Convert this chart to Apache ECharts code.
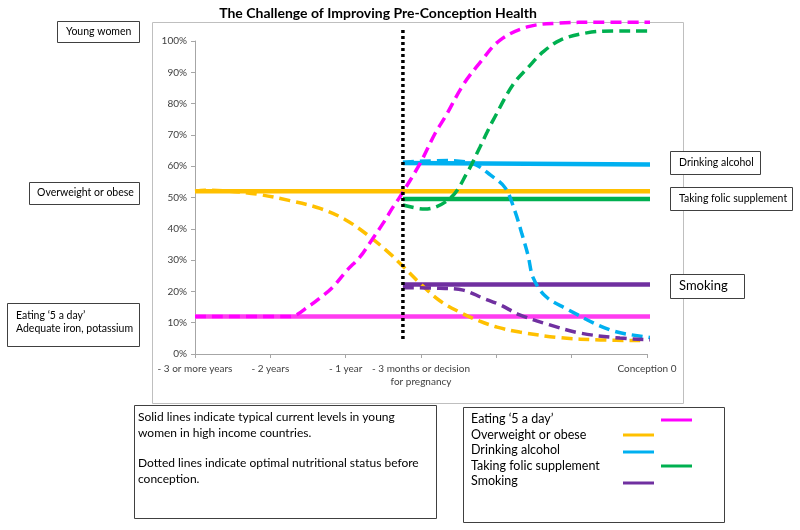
<!DOCTYPE html>
<html><head><meta charset="utf-8">
<script src="https://cdn.jsdelivr.net/npm/echarts@6/dist/echarts.min.js"></script>
<style>html,body{margin:0;padding:0;background:#fff}#c{width:800px;height:530px}</style>
</head><body><div id="c"></div>
<script>
// Category tick labels (x positions 0..6)
const xTickLabels = ['- 3 or more years', '- 2 years', '- 1 year', '- 3 months or decision\nfor pregnancy', '', '', 'Conception 0'];
const decisionX = 2.76;

// Solid lines: typical current levels
const eatingCurrent = [[0, 12], [6.31, 12]];
const overweightCurrent = [[0, 52], [6.31, 52]];
const alcoholCurrent = [[2.76, 61], [6.31, 60.5]];
const folicCurrent = [[2.76, 49.5], [6.31, 49.5]];
const smokingCurrent = [[2.76, 22.2], [6.31, 22.2]];

// Dashed lines: optimal status before conception
const eatingOptimal = [[0, 12], [1.26, 12], [1.53, 15.6], [1.66, 17.9], [1.83, 21.4], [2.02, 26.8], [2.19, 31], [2.32, 35.5], [2.5, 41.9], [2.63, 47], [2.72, 50.2], [2.99, 61], [3.19, 70.6], [3.32, 75.7], [3.56, 86], [3.78, 93], [4.05, 100.3], [4.41, 104.5], [4.81, 105.7], [5.38, 106], [6.31, 106]];
const overweightOptimal = [[0, 52], [0.13, 52.3], [0.46, 52], [0.84, 51], [1.26, 49], [1.66, 46.5], [1.99, 43], [2.32, 37.5], [2.59, 32], [2.76, 28], [2.99, 22.5], [3.25, 17], [3.52, 13.3], [3.78, 10.5], [4.01, 8.6], [4.31, 7], [4.85, 5.2], [5.38, 4.5], [5.91, 4.3]];
const alcoholOptimal = [[2.76, 61.3], [3.39, 61.8], [3.72, 60.5], [3.92, 57.2], [4.12, 53], [4.25, 45.4], [4.34, 38.3], [4.42, 31.6], [4.49, 24.3], [4.65, 18.5], [4.91, 14.7], [5.51, 7.7], [6.0, 5.4], [6.31, 4.6]];
const folicOptimal = [[2.76, 47.6], [3.05, 46.3], [3.39, 49.8], [3.61, 57.8], [3.78, 66], [3.88, 71], [3.96, 74.8], [4.22, 86], [4.45, 92.3], [4.62, 96.5], [4.85, 100.3], [5.2, 102.6], [5.55, 103.2], [6.0, 103.2], [6.31, 102.6]];
const smokingOptimal = [[2.76, 21.2], [3.25, 21], [3.56, 20.4], [3.82, 17.9], [4.05, 15.7], [4.31, 12.5], [4.71, 9.3], [5.11, 6.7], [5.64, 5.1], [6.17, 4.5], [6.31, 4.5]];
const decisionLine = [[decisionX, 103.5], [decisionX, 3.8]];

const C = {pink: '#FF00FF', pinkSolid: '#FF3CF0', orange: '#FFC000', blue: '#00B0F0', green: '#00B050', purple: '#7030A0'};
const FONT = 'Lato';

function solid(data, color) {
  return {type: 'line', data, symbol: 'none', clip: false, silent: true, z: 2,
    lineStyle: {color, width: 4.5}};
}
function dashed(data, color) {
  return {type: 'line', data, symbol: 'none', clip: false, silent: true, smooth: 0.35, z: 3,
    lineStyle: {color, width: 3.5, type: [11, 6], cap: 'butt'}};
}
function box(x, y, w, h) {
  return {type: 'rect', shape: {x: x + 0.5, y: y + 0.5, width: w, height: h}, style: {fill: '#fff', stroke: '#404040', lineWidth: 1}, z: 10};
}
function txt(x, y, text, size, extra) {
  return Object.assign({type: 'text', x, y, style: {text, font: (size || 10.5) + 'px ' + FONT, fill: '#000', textVerticalAlign: 'middle', verticalAlign: 'middle'}, z: 11}, extra || {});
}
function sample(x, y, color) {
  return {type: 'line', shape: {x1: x, y1: y, x2: x + 31, y2: y}, style: {stroke: color, lineWidth: 3}, z: 11};
}

const chart = echarts.init(document.getElementById('c'));
chart.setOption({
  animation: false,
  backgroundColor: '#fff',
  grid: {left: 195, right: 153, top: 41, bottom: 176},
  xAxis: {
    type: 'value', min: 0, max: 6, interval: 1,
    axisLine: {lineStyle: {color: '#a6a6a6'}},
    axisTick: {length: 4, lineStyle: {color: '#a6a6a6'}},
    splitLine: {show: false},
    axisLabel: {color: '#404040', fontFamily: FONT, fontSize: 10, margin: 8, lineHeight: 13,
      formatter: v => xTickLabels[Math.round(v)] || ''}
  },
  yAxis: {
    type: 'value', min: 0, max: 100, interval: 10,
    axisLine: {show: true, lineStyle: {color: '#a6a6a6'}},
    axisTick: {show: true, length: 4, lineStyle: {color: '#a6a6a6'}},
    splitLine: {show: false},
    axisLabel: {color: '#404040', fontFamily: FONT, fontSize: 10, margin: 8, formatter: '{value}%'}
  },
  series: [
    solid(overweightCurrent, C.orange),
    solid(eatingCurrent, C.pinkSolid),
    solid(alcoholCurrent, C.blue),
    solid(folicCurrent, C.green),
    solid(smokingCurrent, C.purple),
    dashed(overweightOptimal, C.orange),
    dashed(eatingOptimal, C.pink),
    dashed(alcoholOptimal, C.blue),
    dashed(folicOptimal, C.green),
    dashed(smokingOptimal, C.purple),
    {type: 'line', data: decisionLine, symbol: 'none', clip: false, silent: true, z: 4,
      lineStyle: {color: '#000', width: 3.5, type: [3, 3], cap: 'butt'}}
  ],
  graphic: [
    {type: 'rect', shape: {x: 152.5, y: 22.5, width: 531, height: 381}, style: {fill: 'none', stroke: '#bfbfbf', lineWidth: 1}, z: 0},
    {type: 'text', x: 378, y: 13, style: {text: 'The Challenge of Improving Pre-Conception Health', font: 'bold 14px ' + FONT, fill: '#000', align: 'center', verticalAlign: 'middle'}, z: 11},
    box(57, 21, 82, 21), txt(66, 32, 'Young women'),
    box(29, 182, 110, 22), txt(37, 193, 'Overweight or obese'),
    box(7, 303, 132, 43), txt(16, 316, 'Eating ‘5 a day’'), txt(16, 329, 'Adequate iron, potassium'),
    box(670, 151, 90, 23), txt(679, 162.5, 'Drinking alcohol'),
    box(670, 187, 122, 23), txt(679, 198.5, 'Taking folic supplement'),
    box(670, 274, 74, 24), txt(679, 286, 'Smoking', 13),
    box(134, 405, 302, 113),
    txt(138, 417, 'Solid lines indicate typical current levels in young', 12),
    txt(138, 433, 'women in high income countries.', 12),
    txt(138, 463, 'Dotted lines indicate optimal nutritional status before', 12),
    txt(138, 479, 'conception.', 12),
    box(463, 407, 261, 115),
    txt(471, 419, 'Eating ‘5 a day’', 12.5),
    txt(471, 435, 'Overweight or obese', 12.5),
    txt(471, 450, 'Drinking alcohol', 12.5),
    txt(471, 466, 'Taking folic supplement', 12.5),
    txt(471, 481, 'Smoking', 12.5),
    sample(661, 420, C.pink),
    sample(623, 435, C.orange),
    sample(623, 452, C.blue),
    sample(661, 466, C.green),
    sample(623, 483, C.purple)
  ]
});
</script>
</body></html>
